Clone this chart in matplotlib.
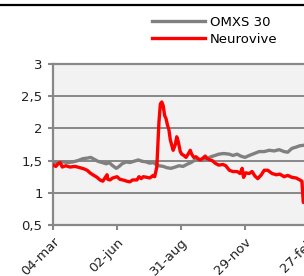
import matplotlib
matplotlib.use("Agg")
import matplotlib.pyplot as plt
from matplotlib.lines import Line2D

# Days since 04-mar
red_days = [0, 4, 8, 10, 13, 18, 24, 31, 38, 44, 48, 52, 56, 62, 66, 70, 73, 76, 77, 80, 84, 90, 94, 98, 104,
            108, 112, 118, 121, 124, 127, 132, 136, 141, 143, 146, 149, 151, 153, 155, 157, 159, 161, 163, 165,
            167, 169, 172, 174, 176, 179, 181, 184, 187, 190, 193, 195, 198, 201, 204, 207, 211, 214, 217, 221,
            224, 228, 233, 239, 243, 248, 253, 259, 263, 266, 268, 271, 276, 280, 284, 288, 293, 297, 302, 308,
            314, 319, 325, 330, 336, 342, 347, 350, 352, 354]
neurovive = [1.43, 1.41, 1.46, 1.47, 1.40, 1.42, 1.40, 1.41, 1.39, 1.37, 1.35, 1.31, 1.28, 1.24, 1.20, 1.18,
             1.23, 1.28, 1.21, 1.20, 1.23, 1.25, 1.21, 1.20, 1.18, 1.17, 1.20, 1.20, 1.25, 1.22, 1.25, 1.24,
             1.23, 1.27, 1.25, 1.40, 2.10, 2.38, 2.41, 2.35, 2.20, 2.15, 2.05, 1.98, 1.82, 1.74, 1.66, 1.75,
             1.87, 1.80, 1.64, 1.60, 1.58, 1.55, 1.60, 1.66, 1.60, 1.55, 1.56, 1.53, 1.51, 1.54, 1.57, 1.53,
             1.51, 1.50, 1.46, 1.43, 1.44, 1.42, 1.35, 1.33, 1.33, 1.30, 1.38, 1.24, 1.31, 1.30, 1.33, 1.26,
             1.22, 1.28, 1.35, 1.35, 1.30, 1.28, 1.29, 1.25, 1.27, 1.24, 1.23, 1.20, 1.18, 0.85, 0.87]

gray_days = [0, 7, 14, 21, 28, 35, 42, 49, 53, 58, 63, 69, 75, 79, 84, 89, 93, 97, 103, 108, 114, 120, 125,
             131, 136, 141, 145, 149, 155, 160, 166, 172, 177, 183, 188, 194, 200, 205, 211, 217, 222, 228,
             233, 240, 248, 253, 259, 264, 270, 276, 283, 290, 297, 304, 311, 318, 325, 330, 336, 342, 347, 354]
omxs30 = [1.48, 1.46, 1.48, 1.47, 1.48, 1.50, 1.53, 1.54, 1.55, 1.52, 1.49, 1.47, 1.45, 1.47, 1.42, 1.38,
          1.41, 1.45, 1.48, 1.47, 1.49, 1.51, 1.49, 1.48, 1.46, 1.47, 1.44, 1.42, 1.41, 1.39, 1.38, 1.40,
          1.42, 1.41, 1.44, 1.47, 1.51, 1.52, 1.50, 1.53, 1.56, 1.58, 1.60, 1.61, 1.60, 1.58, 1.60, 1.57,
          1.55, 1.58, 1.61, 1.64, 1.64, 1.66, 1.65, 1.67, 1.64, 1.63, 1.69, 1.71, 1.73, 1.74]

tick_days = [0, 90, 180, 270, 360]
tick_labels = ["04-mar", "02-jun", "31-aug", "29-nov", "27-feb"]
y_ticks = [0.5, 1, 1.5, 2, 2.5, 3]
y_labels = ["0,5", "1", "1,5", "2", "2,5", "3"]

W, H = 304, 276
fig = plt.figure(figsize=(W / 100, H / 100), dpi=100)
left, right, top, bottom = 53, 320, 64, 225
ax = fig.add_axes([left / W, 1 - bottom / H, (right - left) / W, (bottom - top) / H])
ax.set_facecolor("#f2f2f2")

ax.plot(gray_days, omxs30, color="#808080", lw=2.4, label="OMXS 30", solid_joinstyle="round", zorder=3)
ax.plot(red_days, neurovive, color="#ff0000", lw=2.4, label="Neurovive", solid_joinstyle="round", zorder=4)

ax.set_xlim(0, (right - left) * 90 / 64)
ax.set_ylim(0.5, 3)
ax.set_xticks(tick_days)
ax.set_xticklabels(tick_labels, rotation=45, ha="right", rotation_mode="anchor", fontsize=9.5)
ax.set_yticks(y_ticks)
ax.set_yticklabels(y_labels, fontsize=9.5)
ax.yaxis.grid(True, color="#888888", lw=1.4, zorder=1)
ax.set_axisbelow(True)
for s in ["left", "bottom", "top"]:
    ax.spines[s].set_color("#888888")
    ax.spines[s].set_linewidth(1.6)
ax.spines["right"].set_visible(False)
ax.tick_params(axis="both", colors="#888888", length=3.5, width=1.5, labelcolor="#222222")
ax.tick_params(axis="y", pad=4)
ax.tick_params(axis="x", pad=4)

fig.add_artist(Line2D([0, 1], [1 - 5 / H, 1 - 5 / H], color="black", lw=1.6, transform=fig.transFigure))

fig.legend(loc="upper left", bbox_to_anchor=(152 / W, 1 - 16 / H), frameon=False, fontsize=9.5,
           handlelength=4.0, handletextpad=0.38, labelspacing=0.3, borderpad=0, borderaxespad=0)

fig.savefig("out.png", dpi=100)
